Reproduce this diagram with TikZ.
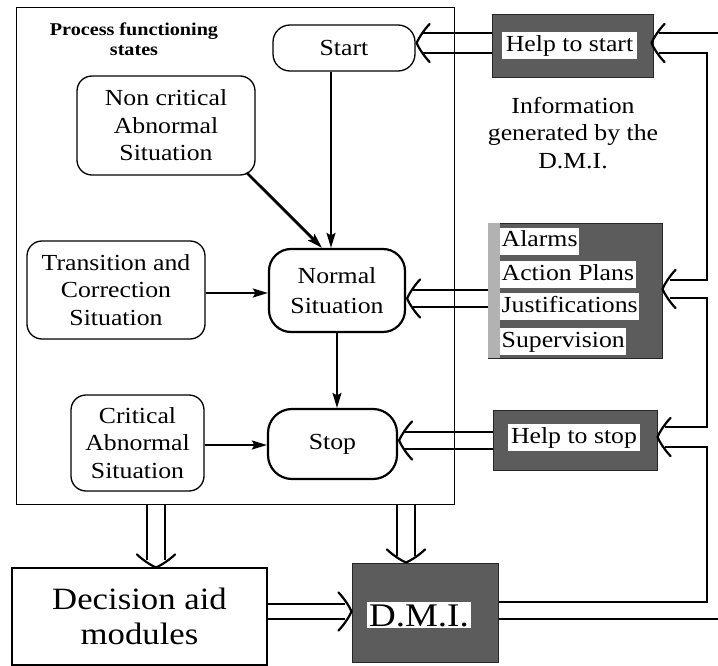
\documentclass[tikz,border=0pt]{standalone}
\usepackage{fontspec}
\setmainfont{Liberation Serif}[FakeStretch=1.12]
\usetikzlibrary{arrows.meta,calc}
\begin{document}
\begin{tikzpicture}[x=1pt,y=1pt,
  every node/.style={inner sep=0pt},
  lbl/.style={font=\fontsize{23}{27.5}\selectfont, align=center},
  state/.style={draw, rounded corners=15pt, line width=1.3pt, lbl},
  mainstate/.style={draw, rounded corners=22pt, line width=2.2pt, lbl},
  darkbox/.style={draw=black!85, fill=black!64, line width=1pt},
  whitelbl/.style={fill=white, font=\fontsize{23}{27.5}\selectfont, text height=16.5pt, text depth=5.5pt, inner xsep=1.5pt, inner ysep=2.5pt},
  arr/.style={line width=1.7pt, -{Stealth[length=15pt,width=9pt,inset=2.5pt]}},
  pipe/.style={line width=2pt},
  hhead/.pic={\draw[line width=2.2pt, line cap=round] (13,19) .. controls (8,14) and (2,5) .. (0,0) .. controls (2,-5) and (8,-14) .. (13,-19);}
]
\useasboundingbox (0,0) rectangle (718,-666);

% process box
\node[draw, line width=1.1pt, minimum width=438pt, minimum height=497pt, anchor=north west] (proc) at (16,-7) {};
\node[font=\bfseries\fontsize{18}{20}\selectfont, align=center] (title) at (134,-39) {Process functioning\\states};

\node[state, rounded corners=17pt, minimum width=142pt, minimum height=46pt] (start) at (344,-48) {Start};
\node[state, minimum width=178pt, minimum height=99pt] (noncrit) at (166,-125.5) {Non critical\\Abnormal\\Situation};
\node[state, minimum width=178pt, minimum height=98pt] (trans) at (116,-290) {Transition and\\Correction\\Situation};
\node[mainstate, minimum width=136pt, minimum height=83pt, font=\fontsize{23}{30}\selectfont] (normal) at (337,-290.5) {Normal\\Situation};
\node[state, minimum width=133pt, minimum height=96pt] (crit) at (137.5,-443) {Critical\\Abnormal\\Situation};
\node[mainstate, rounded corners=24pt, minimum width=129pt, minimum height=70pt] (stop) at (332.5,-444) {Stop};

% information boxes
\node[darkbox, minimum width=161pt, minimum height=63pt] (hs) at (572.5,-46.5) {};
\node[whitelbl, inner xsep=3.5pt] (hstxt) at (569.5,-46) {Help to start};
\node[lbl] (info) at (573,-133) {Information\\generated by the\\D.M.I.};

\node[darkbox, minimum width=174pt, minimum height=135pt] (alarms) at (575,-290.5) {};
\fill[black!30] ([xshift=0.5pt,yshift=-0.5pt]alarms.north west) rectangle ([xshift=12pt,yshift=0.5pt]alarms.south west);
\node[whitelbl, anchor=base west] (al1) at (500,-247) {Alarms};
\node[whitelbl, anchor=base west] (al2) at (500,-280) {Action Plans};
\node[whitelbl, anchor=base west] (al3) at (500,-312) {Justifications};
\node[whitelbl, anchor=base west] (al4) at (500,-347) {Supervision};

\node[darkbox, minimum width=164pt, minimum height=60pt] (hstop) at (575,-440) {};
\node[whitelbl, inner xsep=3pt] (hstoptxt) at (574,-437.5) {Help to stop};

% bottom boxes
\node[draw, line width=1.1pt, minimum width=255pt, minimum height=97pt, font=\fontsize{31}{35}\selectfont, align=center] (dam) at (139.5,-616.5) {Decision aid\\modules};
\node[darkbox, minimum width=146pt, minimum height=99pt] (dmi) at (425,-612.5) {};
\node[fill=white, font=\fontsize{33}{36}\selectfont, text height=22pt, text depth=0pt, inner xsep=2pt, inner ysep=2pt] (dmitxt) at (419,-615) {D.M.I.};

% single arrows
\draw[arr] ([xshift=-13pt]start.south) -- ([xshift=-6pt]normal.north);
\draw[arr, line width=2.8pt] ([xshift=-9pt,yshift=3pt]noncrit.south east) -- ([xshift=-15pt]normal.north);
\draw[arr] ([yshift=-3pt]trans.east) -- ([yshift=-3pt]trans.east -| normal.west);
\draw[arr] (normal.south) -- (normal.south |- stop.north);
\draw[arr] ([yshift=-2pt]crit.east) -- ([yshift=-2pt]crit.east -| stop.west);

% double arrows, left side
\draw[pipe] ([yshift=13.5pt]hs.west) -- ([xshift=7pt,yshift=13.5pt]hs.west -| start.east);
\draw[pipe] ([yshift=-6.5pt]hs.west) -- ([xshift=7pt,yshift=-6.5pt]hs.west -| start.east);
\pic at ([xshift=1pt,yshift=5pt]start.east) {hhead};

\draw[pipe] ([yshift=0.5pt]alarms.west) -- ([xshift=7pt,yshift=0.5pt]alarms.west -| normal.east);
\draw[pipe] ([yshift=-16.5pt]alarms.west) -- ([xshift=7pt,yshift=-16.5pt]alarms.west -| normal.east);
\pic at ([xshift=1pt,yshift=-8pt]normal.east) {hhead};

\draw[pipe] ([yshift=8pt]hstop.west) -- ([xshift=7pt,yshift=8pt]hstop.west -| stop.east);
\draw[pipe] ([yshift=-9pt]hstop.west) -- ([xshift=7pt,yshift=-9pt]hstop.west -| stop.east);
\pic at ([xshift=1pt,yshift=3.5pt]stop.east) {hhead};

% double arrows, bottom
\draw[pipe] ([xshift=7.5pt]dam.north |- proc.south) -- ([xshift=7.5pt,yshift=7pt]dam.north);
\draw[pipe] ([xshift=25.5pt]dam.north |- proc.south) -- ([xshift=25.5pt,yshift=7pt]dam.north);
\pic[rotate=90] at ([xshift=16.5pt]dam.north) {hhead};

\draw[pipe] ([xshift=-28pt]dmi.north |- proc.south) -- ([xshift=-28pt,yshift=7pt]dmi.north);
\draw[pipe] ([xshift=-10pt]dmi.north |- proc.south) -- ([xshift=-10pt,yshift=7pt]dmi.north);
\pic[rotate=90] at ([xshift=-19pt]dmi.north) {hhead};

\draw[pipe] ([yshift=12.5pt]dam.east) -- ([xshift=-7pt,yshift=12.5pt]dam.east -| dmi.west);
\draw[pipe] ([yshift=-2.5pt]dam.east) -- ([xshift=-7pt,yshift=-2.5pt]dam.east -| dmi.west);
\pic[rotate=180] at ([yshift=1pt]dmi.west) {hhead};

% feedback lines, right side
\coordinate (rx) at (707,0);
\coordinate (edgeTop) at (718,-33);
\coordinate (edgeBot) at (718,-619);

\draw[pipe] (edgeTop) -- ([xshift=5pt]edgeTop -| hs.east);
\draw[pipe] ([xshift=5pt,yshift=-6.5pt]hs.east) -- ([yshift=-6.5pt]hs.east -| rx) -- ([yshift=10.5pt]alarms.east -| rx) -- ([xshift=7pt,yshift=10.5pt]alarms.east);
\pic at ([xshift=-2pt,yshift=3.5pt]hs.east) {hhead};

\draw[pipe] ([xshift=7pt,yshift=-7.5pt]alarms.east) -- ([yshift=-7.5pt]alarms.east -| rx) -- ([yshift=13pt]hstop.east -| rx) -- ([xshift=7pt,yshift=13pt]hstop.east);
\pic at ([yshift=1.5pt]alarms.east) {hhead};

\draw[pipe] ([xshift=7pt,yshift=-7pt]hstop.east) -- ([yshift=-7pt]hstop.east -| rx) -- ([yshift=10.5pt]dmi.east -| rx) -- ([yshift=10.5pt]dmi.east);
\pic at ([yshift=3pt]hstop.east) {hhead};
\draw[pipe] ([yshift=-6.5pt]dmi.east) -- (edgeBot);
\end{tikzpicture}
\end{document}
